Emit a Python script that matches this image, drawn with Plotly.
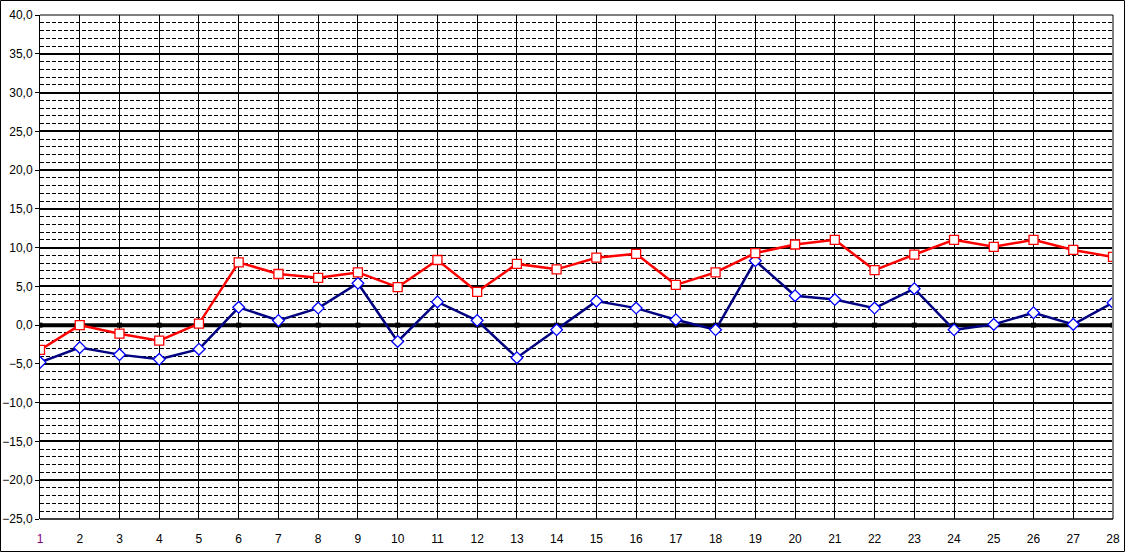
'''
    Line chart with two series over 28 days, old spreadsheet style grid.
'''
import math
import plotly.graph_objects as go

days = list(range(1, 29))
red_values = [-3.2, 0.0, -1.1, -2.0, 0.2, 8.1, 6.6, 6.1, 6.8, 4.9,
              8.4, 4.3, 7.9, 7.2, 8.7, 9.2, 5.2, 6.8, 9.3, 10.4,
              11.0, 7.1, 9.1, 11.0, 10.1, 11.0, 9.7, 8.8]
blue_values = [-4.8, -2.9, -3.8, -4.4, -3.1, 2.3, 0.6, 2.2, 5.4, -2.1,
               3.0, 0.6, -4.2, -0.6, 3.1, 2.2, 0.7, -0.6, 8.3, 3.8,
               3.3, 2.2, 4.7, -0.6, 0.1, 1.6, 0.1, 2.9]
base_values = [0.0] * len(days)

W, H = 1125, 552
L, R, T, B = 40, 12, 15, 33
pw, ph = W - L - R, H - T - B
y_min, y_max = -25, 40

# dashed lines at every whole unit that is not a multiple of 5
minor_vals = [v for v in range(y_min, y_max + 1) if v % 5 != 0]

fig = go.Figure()

# black zero series with small square markers
fig.add_trace(go.Scatter(x=days, y=base_values, mode='lines+markers',
                         line=dict(color='black', width=4),
                         marker=dict(symbol='square', size=5, color='black'),
                         hoverinfo='skip'))
fig.add_trace(go.Scatter(x=days, y=blue_values, mode='lines+markers',
                         line=dict(color='#000080', width=2.5),
                         marker=dict(symbol='diamond', size=9, color='white',
                                     line=dict(color='#0000FF', width=1.3))))
fig.add_trace(go.Scatter(x=days, y=red_values, mode='lines+markers',
                         line=dict(color='#FF0000', width=2.5),
                         marker=dict(symbol='square', size=9, color='white',
                                     line=dict(color='#FF0000', width=1.3))))

ticktext = ["<span style='color:#800080'>1</span>"] + [str(d) for d in days[1:]]
tfont = dict(family='Liberation Sans, Arial', size=12, color='black')

fig.update_xaxes(range=[1, 28], tickmode='array', tickvals=days, ticktext=ticktext,
                 showgrid=True, gridcolor='black', gridwidth=1,
                 zeroline=False, showline=False, ticks='', ticklabelstandoff=11,
                 automargin=False, tickfont=tfont)
fig.update_yaxes(range=[y_min, y_max], tickmode='linear', tick0=0, dtick=5,
                 tickformat='.1f', showgrid=True, gridcolor='black', gridwidth=2,
                 zeroline=False, ticks='outside', ticklen=4, tickcolor='black',
                 showline=True, linecolor='black', linewidth=1,
                 automargin=False, tickfont=tfont)


def crisp_paper_y(v):
    # snap a 1px line onto a pixel row so the dashes stay sharp
    py = T + (y_max - v) * ph / (y_max - y_min)
    return (T + ph - (math.floor(py) + 0.5)) / ph


shapes = []
for v in minor_vals:
    yp = crisp_paper_y(v)
    shapes.append(dict(type='line', xref='paper', yref='paper', x0=0, x1=1, y0=yp, y1=yp,
                       layer='below', line=dict(color='black', width=1, dash='4px,2px')))
shapes += [
    # grey right border of plot area
    dict(type='line', xref='paper', yref='paper', x0=1, x1=1, y0=0, y1=1,
         line=dict(color='#808080', width=2)),
    # top and bottom lines
    dict(type='line', xref='paper', yref='paper', x0=0, x1=1, y0=1, y1=1,
         line=dict(color='black', width=1)),
    dict(type='line', xref='paper', yref='paper', x0=0, x1=1, y0=0, y1=0,
         line=dict(color='black', width=1.5)),
    # outer frame of the whole picture
    dict(type='rect', xref='paper', yref='paper',
         x0=-(L - 0.5) / pw, x1=(W - L - 0.5) / pw,
         y0=-(B - 0.5) / ph, y1=(ph + T - 0.5) / ph,
         line=dict(color='black', width=1)),
]

fig.update_layout(
    width=W, height=H, separators=',.',
    margin=dict(l=L, r=R, t=T, b=B),
    plot_bgcolor='white', paper_bgcolor='white',
    showlegend=False, shapes=shapes,
)

fig.write_html("out.html", config={'displayModeBar': False})

# drop the default page margin so the chart sits at the top-left corner
with open("out.html", encoding="utf-8") as f:
    page = f.read()
page = page.replace("<head>", "<head><style>body{margin:0;}</style>", 1)
with open("out.html", "w", encoding="utf-8") as f:
    f.write(page)
